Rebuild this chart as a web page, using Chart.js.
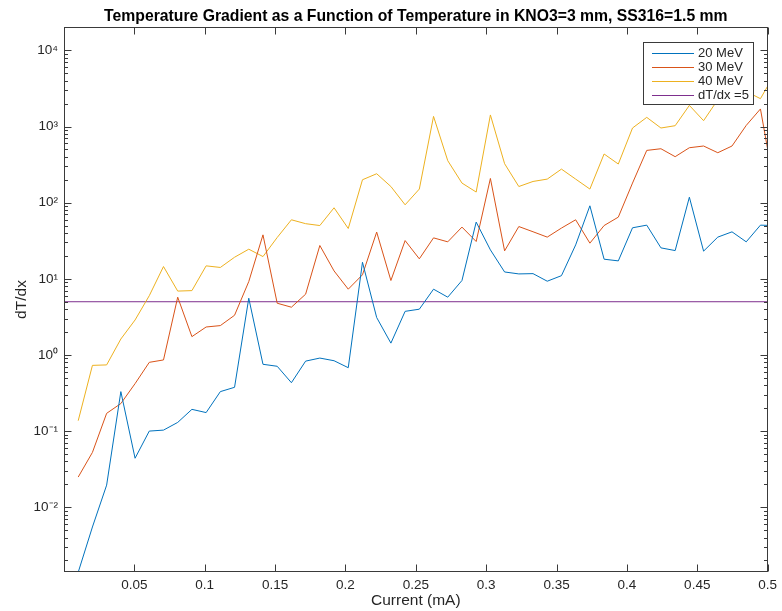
<!DOCTYPE html>
<html>
<head>
<meta charset="utf-8">
<script src="https://cdn.jsdelivr.net/npm/chart.js@4/dist/chart.umd.min.js"></script>
<style>
  html, body { margin: 0; padding: 0; background: #ffffff; }
  #wrap { width: 782px; height: 611px; }
</style>
</head>
<body>
<div id="wrap"><canvas id="c" width="782" height="611"></canvas></div>
<script>
// Beam current (mA)
const current = [
  0.0101, 0.0202, 0.0303, 0.0404, 0.0505, 0.0606, 0.0707, 0.0808, 0.0909, 0.1010,
  0.1111, 0.1212, 0.1313, 0.1414, 0.1515, 0.1616, 0.1717, 0.1818, 0.1919, 0.2020,
  0.2121, 0.2222, 0.2323, 0.2424, 0.2525, 0.2626, 0.2727, 0.2828, 0.2929, 0.3030,
  0.3131, 0.3232, 0.3333, 0.3434, 0.3535, 0.3636, 0.3737, 0.3838, 0.3939, 0.4040,
  0.4141, 0.4242, 0.4343, 0.4444, 0.4545, 0.4646, 0.4747, 0.4848, 0.4949, 0.5051
];

// dT/dx for each beam energy
const grad20MeV = [
  0.0014, 0.0055, 0.0195, 0.33, 0.044, 0.100, 0.103, 0.130, 0.193, 0.175,
  0.33, 0.376, 5.56, 0.754, 0.71, 0.432, 0.83, 0.91, 0.84, 0.68,
  16.5, 3.1, 1.43, 3.74, 3.99, 7.31, 5.74, 9.5, 55.6, 24.0,
  12.3, 11.6, 11.7, 9.3, 11.0, 27.9, 91, 18.1, 17.2, 46.8,
  50.7, 25.5, 23.5, 118, 23.1, 35.3, 41.4, 30.6, 50.7, 50
];
const grad30MeV = [
  0.0249, 0.0525, 0.171, 0.23, 0.42, 0.80, 0.86, 5.74, 1.74, 2.33,
  2.43, 3.32, 9.2, 37.8, 4.78, 4.24, 6.28, 27.4, 12.7, 7.31,
  11.3, 41.1, 9.5, 31.8, 18.3, 34.5, 30.6, 47.8, 30.9, 208,
  23.3, 48.6, 41.5, 35.3, 46.4, 59.6, 29.4, 50.1, 64.6, 181,
  486, 511, 402, 527, 555, 453, 555, 1035, 1702, 150
];
const grad40MeV = [
  0.137, 0.73, 0.74, 1.62, 2.88, 6.0, 14.5, 6.9, 7.0, 14.8,
  14.1, 19.2, 24.5, 19.6, 34.9, 59.6, 53.0, 50.1, 85.7, 45.8,
  200, 240, 163, 93.8, 151, 1360, 356, 181, 138, 1420,
  325, 163, 190, 204, 276, 204, 151, 436, 322, 957,
  1320, 957, 1026, 1897, 1194, 2250, 2600, 2890, 2323, 4950
];

// Reference level dT/dx = 5
const limitX = [0, 0.5];
const limitY = [5, 5];

const seriesLabels = ['20 MeV', '30 MeV', '40 MeV', 'dT/dx =5'];
const seriesColors = ['#0072BD', '#D95319', '#EDB120', '#7E2F8E'];

const xTickValues = [0.05, 0.1, 0.15, 0.2, 0.25, 0.3, 0.35, 0.4, 0.45, 0.5];
const xTickLabels = ['0.05', '0.1', '0.15', '0.2', '0.25', '0.3', '0.35', '0.4', '0.45', '0.5'];
const yTickValues = [1e-2, 1e-1, 1e0, 1e1, 1e2, 1e3, 1e4];
const yTickLabels = ['10\u207B\u00B2', '10\u207B\u00B9', '10\u2070', '10\u00B9', '10\u00B2', '10\u00B3', '10\u2074'];

const chartTitle = 'Temperature Gradient as a Function of Temperature in KNO3=3 mm, SS316=1.5 mm';
const FONT = '"Liberation Sans", Arial, Helvetica, sans-serif';
const AXIS_COLOR = '#262626';
const BOX_COLOR = '#3a3a3a';

function points(xs, ys) {
  return xs.map((x, i) => ({ x: x, y: ys[i] }));
}

// Axes box, inward tick marks, title and legend drawn on top of the plot
const decorations = {
  id: 'decorations',
  afterDraw(chart) {
    const ctx = chart.ctx;
    const area = chart.chartArea;
    const xs = chart.scales.x;
    const ys = chart.scales.y;
    const L = Math.round(area.left) + 0.5;
    const R = Math.round(area.right) - 0.5;
    const T = Math.round(area.top) + 0.5;
    const B = Math.round(area.bottom) - 0.5;

    ctx.save();
    ctx.strokeStyle = BOX_COLOR;
    ctx.lineWidth = 1;
    ctx.strokeRect(L, T, R - L, B - T);

    ctx.beginPath();
    // x ticks on bottom and top edges
    xTickValues.forEach(v => {
      const px = Math.round(xs.getPixelForValue(v)) + 0.5;
      ctx.moveTo(px, B); ctx.lineTo(px, B - 7);
      ctx.moveTo(px, T); ctx.lineTo(px, T + 7);
    });
    // y decade ticks and minor ticks on left and right edges
    const lo = Math.floor(Math.log10(ys.min));
    const hi = Math.ceil(Math.log10(ys.max));
    for (let e = lo; e <= hi; e++) {
      for (let m = 1; m <= 9; m++) {
        const v = m * Math.pow(10, e);
        if (v < ys.min || v > ys.max) continue;
        const py = Math.round(ys.getPixelForValue(v)) + 0.5;
        const len = m === 1 ? 7 : 3.5;
        ctx.moveTo(L, py); ctx.lineTo(L + len, py);
        ctx.moveTo(R, py); ctx.lineTo(R - len, py);
      }
    }
    ctx.stroke();

    // title
    ctx.fillStyle = '#000000';
    ctx.font = 'bold 15.75px ' + FONT;
    ctx.textAlign = 'center';
    ctx.textBaseline = 'alphabetic';
    ctx.fillText(chartTitle, (area.left + area.right) / 2, 21);

    // legend
    const boxL = 643.5, boxT = 42.5, boxW = 110, boxH = 62;
    ctx.fillStyle = '#ffffff';
    ctx.fillRect(boxL, boxT, boxW, boxH);
    ctx.strokeStyle = BOX_COLOR;
    ctx.strokeRect(boxL, boxT, boxW, boxH);
    ctx.font = '13px ' + FONT;
    ctx.textAlign = 'left';
    ctx.textBaseline = 'middle';
    seriesLabels.forEach((label, i) => {
      const y = 52.5 + i * 14.3;
      ctx.strokeStyle = seriesColors[i];
      ctx.lineWidth = 1;
      ctx.beginPath();
      ctx.moveTo(652, Math.round(y) + 0.5);
      ctx.lineTo(694, Math.round(y) + 0.5);
      ctx.stroke();
      ctx.fillStyle = AXIS_COLOR;
      ctx.fillText(label, 698, y + 0.5);
    });
    ctx.restore();
  }
};

const lineStyle = { borderWidth: 1, pointRadius: 0, tension: 0, fill: false };

new Chart(document.getElementById('c'), {
  type: 'line',
  data: {
    datasets: seriesLabels.map((label, i) => Object.assign({
      label: label,
      data: [
        points(current, grad20MeV),
        points(current, grad30MeV),
        points(current, grad40MeV),
        points(limitX, limitY)
      ][i],
      borderColor: seriesColors[i]
    }, lineStyle))
  },
  options: {
    responsive: false,
    devicePixelRatio: 1,
    animation: false,
    layout: { padding: { top: 27, right: 14, left: 0, bottom: 0 } },
    plugins: {
      legend: { display: false },
      title: { display: false },
      tooltip: { enabled: false }
    },
    scales: {
      x: {
        type: 'linear',
        min: 0,
        max: 0.5,
        grid: { display: false, drawTicks: false },
        border: { display: false },
        afterBuildTicks: s => { s.ticks = xTickValues.map(v => ({ value: v })); },
        afterFit: s => { s.height = 39; },
        ticks: {
          autoSkip: false,
          maxRotation: 0,
          padding: 5,
          color: AXIS_COLOR,
          font: { family: FONT, size: 13.5 },
          callback: v => xTickLabels[xTickValues.findIndex(t => Math.abs(t - v) < 1e-9)]
        },
        title: {
          display: true,
          text: 'Current (mA)',
          color: AXIS_COLOR,
          font: { family: FONT, size: 15.5 },
          padding: { top: 0, bottom: 1 }
        }
      },
      y: {
        type: 'logarithmic',
        min: 1.41e-3,
        max: 2.03e4,
        grid: { display: false, drawTicks: false },
        border: { display: false },
        afterBuildTicks: s => { s.ticks = yTickValues.map(v => ({ value: v })); },
        afterFit: s => { s.width = 64; },
        ticks: {
          autoSkip: false,
          padding: 6,
          color: AXIS_COLOR,
          font: { family: FONT, size: 13.5 },
          callback: v => yTickLabels[yTickValues.findIndex(t => Math.abs(t - v) / t < 1e-6)]
        },
        title: {
          display: true,
          text: 'dT/dx',
          color: AXIS_COLOR,
          font: { family: FONT, size: 15.5 },
          padding: { top: 12, bottom: 0 }
        }
      }
    }
  },
  plugins: [decorations]
});
</script>
</body>
</html>
